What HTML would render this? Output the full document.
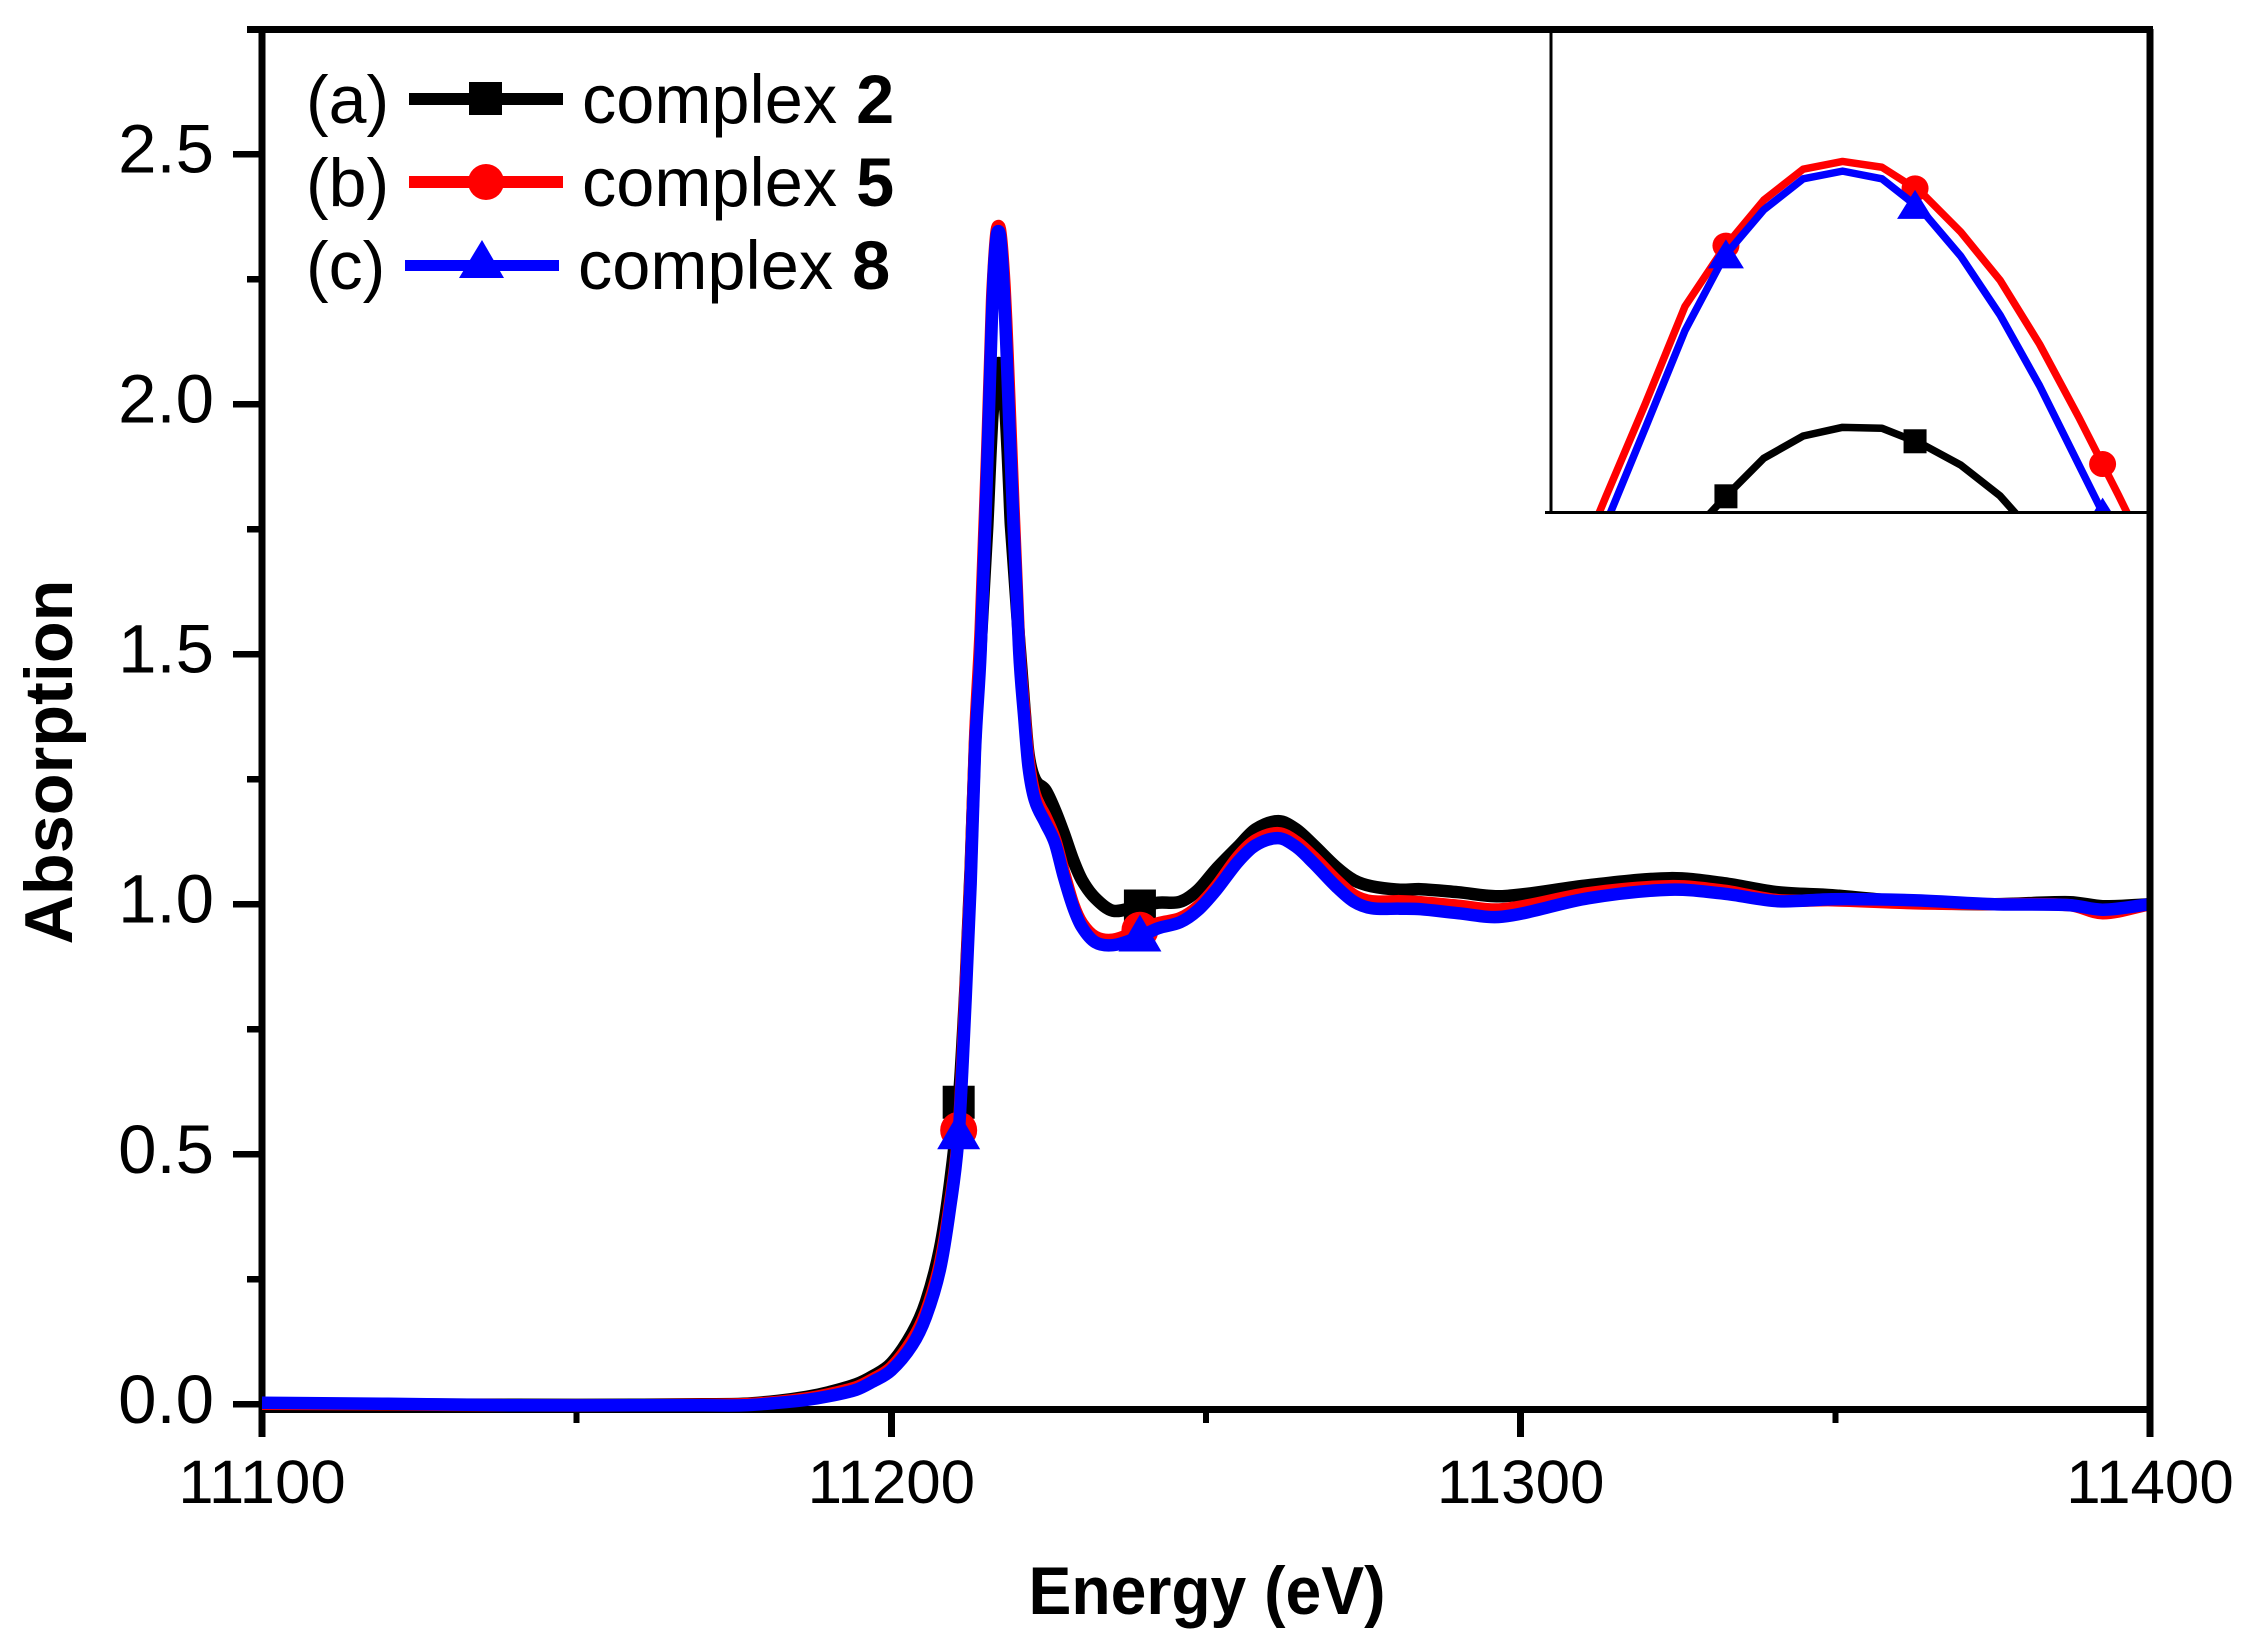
<!DOCTYPE html>
<html>
<head>
<meta charset="utf-8">
<title>Absorption vs Energy</title>
<style>
html,body{margin:0;padding:0;background:#fff;width:2248px;height:1651px;overflow:hidden;}
svg{display:block;}
text{font-family:"Liberation Sans",sans-serif;fill:#000;}
</style>
</head>
<body>
<svg id="chart" xmlns="http://www.w3.org/2000/svg" width="2248" height="1651" viewBox="0 0 2248 1651">
  <defs>
    <clipPath id="inset-clip"><rect x="1552" y="32" width="595" height="479"/></clipPath>
  </defs>
  <rect x="0" y="0" width="2248" height="1651" fill="#fff"/>
  <g id="under-axes"></g>
  <g id="main-plot"></g>
  <g id="inset-plot" clip-path="url(#inset-clip)"></g>
  <g id="over-axes"></g>

  <text transform="translate(72,762) rotate(-90)" text-anchor="middle" font-size="68" font-weight="bold" textLength="365" lengthAdjust="spacingAndGlyphs">Absorption</text>
  <text x="1207" y="1614" text-anchor="middle" font-size="68" font-weight="bold" textLength="357" lengthAdjust="spacingAndGlyphs">Energy (eV)</text>

  <g>
    <g>
      <text x="306" y="123" font-size="68">(a)</text>
      <rect x="409" y="93" width="154" height="12" fill="#000"/>
      <rect x="469" y="82" width="33" height="33" fill="#000"/>
      <text x="582" y="123" font-size="68.5">complex <tspan font-weight="bold">2</tspan></text>
    </g>
    <g>
      <text x="306" y="206" font-size="68">(b)</text>
      <rect x="409" y="176" width="154" height="12" fill="#f00"/>
      <circle cx="486" cy="182" r="18" fill="#f00"/>
      <text x="582" y="206" font-size="68.5">complex <tspan font-weight="bold">5</tspan></text>
    </g>
    <g>
      <text x="306" y="289" font-size="68">(c)</text>
      <rect x="405" y="260" width="154" height="11" fill="#00f"/>
      <polygon points="459,278 504,278 482,240" fill="#00f"/>
      <text x="578" y="289" font-size="68.5">complex <tspan font-weight="bold">8</tspan></text>
    </g>
  </g>
</svg>
<script>
// ---- chart data ----
const energies = [
  11100,11120,11140,11160,11170,11176.5,11182,11186.6,11190,11194.4,11197,11200,11203.3,11205.5,11207.7,11209.3,11210.7,11211.8,11212.6,11213.3,11214.2,
  11215.25,11215.5,11215.75,11216,11216.25,11216.5,11216.75,11217,11217.25,11217.5,11217.75,11218,11218.25,11218.5,11218.75,11219,
  11220.3,11221.1,11221.8,11222.8,11224.5,11226,11227.4,11228.9,11230.3,11232.4,11235.2,11238.9,11242.4,11245.9,11248.7,11251.6,11255.1,11257.9,11261.5,11264.3,11267.1,11270.7,11273.5,11276.3,11280.8,11284.1,11290,11297.1,11310.8,11323.7,11332.3,11340.9,11349.5,11362.4,11375.3,11387.3,11392.5,11400
];
const complex2 = [
  0.002,0,-0.001,-0.001,0,0.001,0.007,0.015,0.024,0.04,0.056,0.082,0.142,0.205,0.31,0.44,0.604,0.84,1.07,1.32,1.52,
  1.757,1.828,1.900,1.964,2.008,2.049,2.072,2.081,2.080,2.064,2.042,2.010,1.964,1.900,1.828,1.757,
  1.53,1.40,1.30,1.25,1.228,1.188,1.142,1.088,1.048,1.012,0.987,0.995,1.003,1.005,1.028,1.07,1.115,1.15,1.166,1.15,1.118,1.074,1.048,1.036,1.029,1.03,1.024,1.016,1.038,1.052,1.042,1.024,1.018,1.004,1.000,1.004,0.996,1.0
];
const complex5 = [
  0.001,0,-0.002,-0.002,-0.001,0,0.005,0.012,0.02,0.034,0.05,0.074,0.128,0.185,0.28,0.40,0.548,0.83,1.06,1.33,1.55,
  1.912,2.010,2.106,2.206,2.267,2.316,2.348,2.356,2.350,2.324,2.283,2.233,2.167,2.091,2.011,1.928,
  1.52,1.39,1.29,1.22,1.175,1.13,1.065,1.0,0.962,0.935,0.929,0.945,0.962,0.972,0.995,1.035,1.095,1.128,1.142,1.125,1.094,1.048,1.018,1.006,1.006,1.004,0.997,0.990,1.022,1.036,1.027,1.008,1.008,1.002,1.000,0.998,0.982,1.0
];
const complex8 = [
  0.003,0.001,-0.002,-0.002,-0.002,-0.002,0.003,0.009,0.016,0.029,0.045,0.068,0.118,0.175,0.268,0.39,0.54,0.808,1.04,1.308,1.508,
  1.882,1.982,2.081,2.181,2.258,2.306,2.338,2.346,2.338,2.306,2.258,2.197,2.124,2.042,1.960,1.882,
  1.508,1.375,1.274,1.208,1.162,1.122,1.055,0.994,0.954,0.924,0.918,0.932,0.952,0.964,0.988,1.028,1.085,1.118,1.132,1.115,1.082,1.035,1.005,0.992,0.991,0.990,0.982,0.975,1.012,1.029,1.021,1.006,1.010,1.008,1.000,0.998,0.989,1.0
];
const mainMarkerEnergies = [11210.7, 11239.5];
const insetMarkerEnergies = [11216.26, 11217.46, 11218.65];
const insetEnergyRange = [11215.25, 11219];
const xMajorTicks = [11100, 11200, 11300, 11400];
const xMinorTicks = [11150, 11250, 11350];
const yMajorTicks = [0, 0.5, 1, 1.5, 2, 2.5];
const yMinorTicks = [0.25, 0.75, 1.25, 1.75, 2.25, 2.75];
const yTickLabels = ["0.0", "0.5", "1.0", "1.5", "2.0", "2.5"];

// ---- axis functions ----
const NS = "http://www.w3.org/2000/svg";
const mainX = e => 262 + (e - 11100) * (2150 - 262) / 300;
const mainY = v => 1404.3 - v * 500.1;
const insetX = e => 1551 + (e - 11215.15) * 157.6;
const insetY = v => 512.4 - (v - 1.993) * 966.8;

function interp(series, e) {
  for (let i = 0; i < energies.length - 1; i++) {
    if (e >= energies[i] && e <= energies[i + 1]) {
      const t = (e - energies[i]) / (energies[i + 1] - energies[i]);
      return series[i] + t * (series[i + 1] - series[i]);
    }
  }
  return series[series.length - 1];
}
function make(tag, parent, attrs) {
  const el = document.createElementNS(NS, tag);
  for (const k in attrs) el.setAttribute(k, attrs[k]);
  parent.appendChild(el);
  return el;
}
function drawInsetLine(parent, series, color, width) {
  const pts = [];
  energies.forEach((e, i) => {
    if (e >= insetEnergyRange[0] && e <= insetEnergyRange[1]) {
      pts.push(insetX(e).toFixed(2) + "," + insetY(series[i]).toFixed(2));
    }
  });
  return make("polyline", parent, {points: pts.join(" "), fill: "none", stroke: color, "stroke-width": width, "stroke-linejoin": "round"});
}
function drawSmooth(parent, series, color, width, fx, fy) {
  const xs = energies.map(fx);
  const ys = series.map(fy);
  const n = xs.length;
  const slope = i => {
    const a = Math.max(0, i - 1), b = Math.min(n - 1, i + 1);
    return (ys[b] - ys[a]) / (xs[b] - xs[a]);
  };
  let d = "M" + xs[0].toFixed(2) + " " + ys[0].toFixed(2);
  for (let i = 0; i < n - 1; i++) {
    const dx = xs[i + 1] - xs[i];
    d += " C" + (xs[i] + dx / 3).toFixed(2) + " " + (ys[i] + slope(i) * dx / 3).toFixed(2) + " " +
      (xs[i + 1] - dx / 3).toFixed(2) + " " + (ys[i + 1] - slope(i + 1) * dx / 3).toFixed(2) + " " +
      xs[i + 1].toFixed(2) + " " + ys[i + 1].toFixed(2);
  }
  return make("path", parent, {d: d, fill: "none", stroke: color, "stroke-width": width, "stroke-linejoin": "round"});
}
function drawSquare(parent, x, y, w, h, color) {
  return make("rect", parent, {x: x - w / 2, y: y - h / 2, width: w, height: h, fill: color});
}
function drawCircle(parent, x, y, rx, ry, color) {
  return make("ellipse", parent, {cx: x, cy: y, rx: rx, ry: ry, fill: color});
}
function drawTriangle(parent, x, y, w, up, down, color) {
  const p = (x - w / 2) + "," + (y + down) + " " + (x + w / 2) + "," + (y + down) + " " + x + "," + (y - up);
  return make("polygon", parent, {points: p, fill: color});
}

// ---- axes ----
const under = document.getElementById("under-axes");
const over = document.getElementById("over-axes");
const AX = {"stroke": "#000", "shape-rendering": "crispEdges"};

const leftSpine = make("line", under, Object.assign({x1: 262, y1: 26, x2: 262, y2: 1437, "stroke-width": 7}, AX));


const bottomSpine = make("line", under, Object.assign({x1: 259, y1: 1409.5, x2: 2153, y2: 1409.5, "stroke-width": 7}, AX));



yMajorTicks.forEach((v, i) => {
  const t = make("line", under, Object.assign({x1: 233, y1: mainY(v), x2: 262, y2: mainY(v), "stroke-width": 6.5}, AX));
  
  
  const l = make("text", under, {x: 214, y: mainY(v) + 18.5, "text-anchor": "end", "font-size": 69});
  l.textContent = yTickLabels[i];
  
  
});
yMinorTicks.forEach(v => {
  const t = make("line", under, Object.assign({x1: 247, y1: mainY(v), x2: 262, y2: mainY(v), "stroke-width": 6.5}, AX));
  
  
});
xMajorTicks.forEach(v => {
  const t = make("line", under, Object.assign({x1: mainX(v), y1: 1409, x2: mainX(v), y2: 1437, "stroke-width": 7}, AX));
  
  
  const l = make("text", under, {x: mainX(v), y: 1503, "text-anchor": "middle", "font-size": 61, textLength: 167.5, lengthAdjust: "spacingAndGlyphs"});
  l.textContent = String(v);
  
  
});
xMinorTicks.forEach(v => {
  const t = make("line", under, Object.assign({x1: mainX(v), y1: 1409, x2: mainX(v), y2: 1423, "stroke-width": 6}, AX));
  
  
});

const topSpine = make("line", over, Object.assign({x1: 247, y1: 29.3, x2: 2153, y2: 29.3, "stroke-width": 7}, AX));


const rightSpine = make("line", over, Object.assign({x1: 2150, y1: 29, x2: 2150, y2: 1437, "stroke-width": 7}, AX));


const insetLeft = make("line", over, Object.assign({x1: 1551, y1: 29, x2: 1551, y2: 514, "stroke-width": 3}, AX));


const insetBottom = make("line", over, Object.assign({x1: 1545, y1: 512.4, x2: 2148, y2: 512.4, "stroke-width": 3}, AX));



// ---- main plot series ----
const mainPlot = document.getElementById("main-plot");
const line2 = drawSmooth(mainPlot, complex2, "#000", 12.5, mainX, mainY);


mainMarkerEnergies.forEach(e => {
  const m = drawSquare(mainPlot, mainX(e), mainY(interp(complex2, e)), 32, 33, "#000");
  
  
});
const line5 = drawSmooth(mainPlot, complex5, "#f00", 12.5, mainX, mainY);


mainMarkerEnergies.forEach(e => {
  const m = drawCircle(mainPlot, mainX(e), mainY(interp(complex5, e)), 18.5, 18.5, "#f00");
  
  
});
const line8 = drawSmooth(mainPlot, complex8, "#00f", 12.5, mainX, mainY);


mainMarkerEnergies.forEach(e => {
  const m = drawTriangle(mainPlot, mainX(e), mainY(interp(complex8, e)), 43, 22, 15, "#00f");
  
  
});

// ---- inset series ----
const insetPlot = document.getElementById("inset-plot");
const iLine2 = drawInsetLine(insetPlot, complex2, "#000", 7.5);


insetMarkerEnergies.forEach(e => {
  const m = drawSquare(insetPlot, insetX(e), insetY(interp(complex2, e)), 23, 24, "#000");
  
  
});
const iLine5 = drawInsetLine(insetPlot, complex5, "#f00", 7.5);


insetMarkerEnergies.forEach(e => {
  const m = drawCircle(insetPlot, insetX(e), insetY(interp(complex5, e)), 13.5, 13, "#f00");
  
  
});
const iLine8 = drawInsetLine(insetPlot, complex8, "#00f", 7.5);


insetMarkerEnergies.forEach(e => {
  const m = drawTriangle(insetPlot, insetX(e), insetY(interp(complex8, e)), 36, 15, 14, "#00f");
  
  
});
</script>
</body>
</html>
